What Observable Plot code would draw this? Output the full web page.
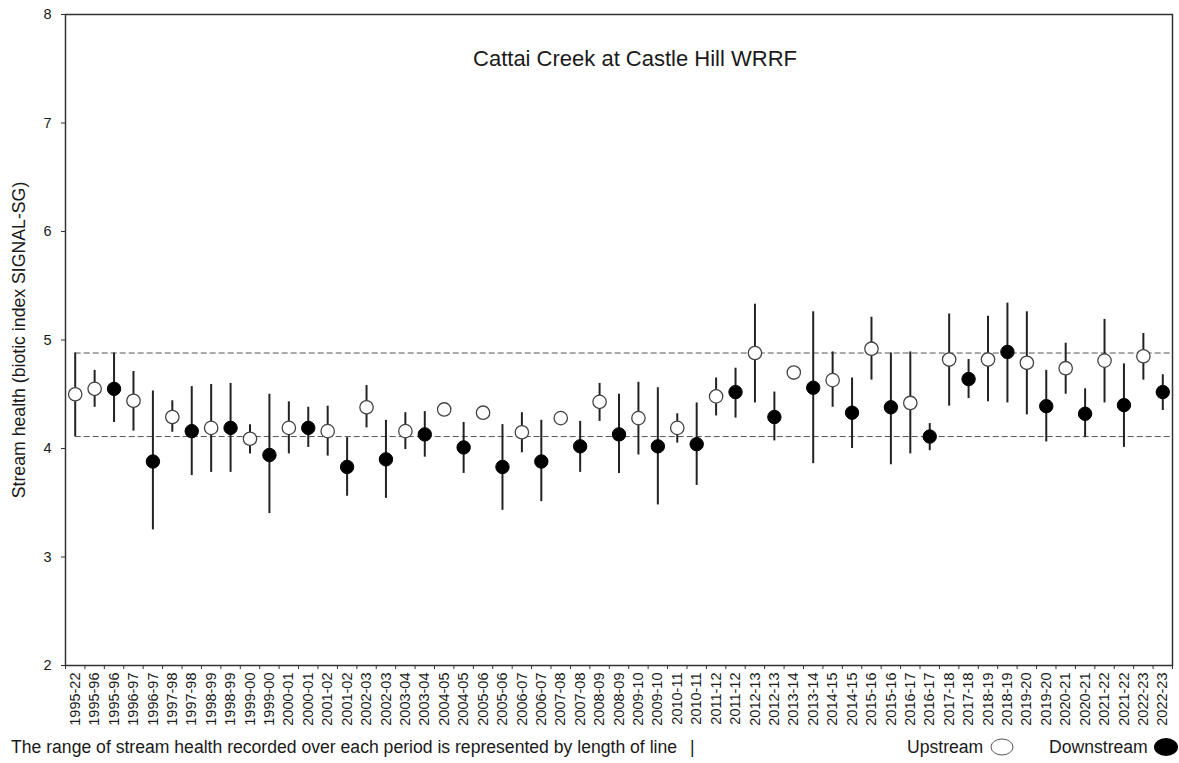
<!DOCTYPE html>
<html>
<head>
<meta charset="utf-8">
<script src="https://cdn.jsdelivr.net/npm/d3@7"></script>
<script src="https://cdn.jsdelivr.net/npm/@observablehq/plot@0.6"></script>
<style>
  html, body { margin: 0; padding: 0; background: #fff; }
  #wrap { position: relative; width: 1179px; height: 763px; font-family: "Liberation Sans", Arial, sans-serif; color: #1a1a1a; }
  #footer span { position: absolute; white-space: nowrap; font-size: 17.6px; line-height: 20px; top: 737px; }
  #footer svg { position: absolute; }
</style>
</head>
<body>
<div id="wrap">
  <div id="chart"></div>
  <div id="footer">
    <span style="left:11px">The range of stream health recorded over each period is represented by length of line</span>
    <span style="left:690px">|</span>
    <span style="left:907px">Upstream</span>
    <svg style="left:989px; top:737px" width="26" height="20"><ellipse cx="13" cy="10" rx="11" ry="8" fill="white" stroke="#555" stroke-width="1"/></svg>
    <span style="left:1049px">Downstream</span>
    <svg style="left:1153px; top:736px" width="26" height="22"><ellipse cx="13" cy="11" rx="12" ry="9" fill="black"/></svg>
  </div>
</div>
<script>
const title = "Cattai Creek at Castle Hill WRRF";
const yLabel = "Stream health (biotic index SIGNAL-SG)";
const yTicks = [2, 3, 4, 5, 6, 7, 8];

const labels = ["1995-22","1995-96","1995-96","1996-97","1996-97","1997-98","1997-98","1998-99","1998-99","1999-00","1999-00",
  "2000-01","2000-01","2001-02","2001-02","2002-03","2002-03","2003-04","2003-04","2004-05","2004-05","2005-06","2005-06",
  "2006-07","2006-07","2007-08","2007-08","2008-09","2008-09","2009-10","2009-10","2010-11","2010-11","2011-12","2011-12",
  "2012-13","2012-13","2013-14","2013-14","2014-15","2014-15","2015-16","2015-16","2016-17","2016-17","2017-18","2017-18",
  "2018-19","2018-19","2019-20","2019-20","2020-21","2020-21","2021-22","2021-22","2022-23","2022-23"];

const site = ["U","U","D","U","D","U","D","U","D","U","D","U","D","U","D","U","D","U","D","U","D","U","D","U","D","U","D",
  "U","D","U","D","U","D","U","D","U","D","U","D","U","D","U","D","U","D","U","D","U","D","U","D","U","D","U","D","U","D"];

const means = [4.50,4.55,4.55,4.44,3.88,4.29,4.16,4.19,4.19,4.09,3.94,4.19,4.19,4.16,3.83,4.38,3.90,4.16,4.13,4.36,4.01,
  4.33,3.83,4.15,3.88,4.28,4.02,4.43,4.13,4.28,4.02,4.19,4.04,4.48,4.52,4.88,4.29,4.70,4.56,4.63,4.33,4.92,4.38,4.42,4.11,
  4.82,4.64,4.82,4.89,4.79,4.39,4.74,4.32,4.81,4.40,4.85,4.52];

const highs = [4.88,4.72,4.88,4.71,4.53,4.44,4.57,4.59,4.60,4.22,4.50,4.43,4.38,4.39,4.10,4.58,4.26,4.33,4.34,null,4.24,
  null,4.22,4.33,4.26,null,4.25,4.60,4.50,4.61,4.56,4.32,4.42,4.65,4.74,5.33,4.52,null,5.26,4.89,4.65,5.21,4.88,4.89,4.23,
  5.24,4.82,5.22,5.34,5.26,4.72,4.97,4.55,5.19,4.78,5.06,4.68];

const lows = [4.11,4.38,4.24,4.16,3.25,4.15,3.75,3.78,3.78,3.95,3.40,3.95,4.01,3.93,3.56,4.19,3.54,3.99,3.92,null,3.77,
  null,3.43,3.96,3.51,null,3.78,4.25,3.77,3.94,3.48,4.05,3.66,4.30,4.28,4.42,4.07,null,3.86,4.38,4.00,4.63,3.85,3.95,3.98,
  4.39,4.46,4.43,4.42,4.31,4.06,4.50,4.10,4.42,4.01,4.63,4.35];

// reference band = range of the first (reference) period
const refIndex = 0;
const refLines = [lows[refIndex], highs[refIndex]];

const n = labels.length;
const rows = labels.map((label, i) => ({i, label, site: site[i], mean: means[i], lo: lows[i], hi: highs[i]}));

const chart = Plot.plot({
  width: 1179,
  height: 733,
  marginLeft: 65,
  marginRight: 7,
  marginTop: 14,
  marginBottom: 68,
  style: {fontFamily: "'Liberation Sans', Arial, sans-serif", color: "#1a1a1a", background: "white", overflow: "visible"},
  x: {domain: [-0.5, n - 0.5]},
  y: {domain: [2, 8]},
  marks: [
    Plot.ruleY(refLines, {x1: refIndex, x2: n - 0.5, stroke: "#555", strokeWidth: 1, strokeDasharray: "6,3"}),
    Plot.ruleX(rows.filter(d => d.lo != null), {x: "i", y1: "lo", y2: "hi", stroke: "#222", strokeWidth: 2}),
    Plot.dot(rows.filter(d => d.site === "U"), {x: "i", y: "mean", r: 6.7, fill: "white", stroke: "#444", strokeWidth: 1.3}),
    Plot.dot(rows.filter(d => d.site === "D"), {x: "i", y: "mean", r: 6.7, fill: "black", stroke: "black", strokeWidth: 1}),
    Plot.frame({stroke: "#333", strokeWidth: 1.5}),
    Plot.axisY({ticks: yTicks, tickSize: 4, tickPadding: 10, tickFormat: d => String(d), fontSize: 14.5, label: null, stroke: "#333"}),
    Plot.axisY({ticks: [], label: yLabel, labelAnchor: "center", labelOffset: 53, labelArrow: "none", fontSize: 17.7}),
    Plot.axisX({ticks: d3.range(n), tickSize: 0, tickPadding: 7, tickRotate: -90, tickFormat: i => labels[i], fontSize: 14.5, label: null}),
    Plot.axisX({ticks: d3.range(n + 1).map(k => k - 0.5), tickSize: 4, tickFormat: () => "", label: null, stroke: "#333"}),
    Plot.text([title], {frameAnchor: "top", dy: 44, dx: 16, fontSize: 22, lineAnchor: "middle", fill: "#1a1a1a"})
  ]
});
document.getElementById("chart").appendChild(chart);
</script>
</body>
</html>
